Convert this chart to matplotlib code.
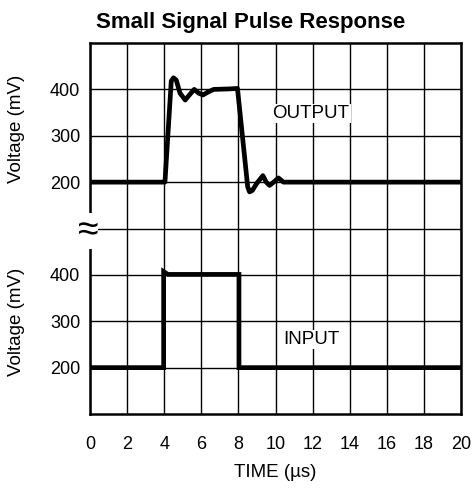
import numpy as np
import matplotlib.pyplot as plt

plt.rcParams['font.family'] = ['Liberation Sans', 'DejaVu Sans']

# Output trace (mV vs us)
out_t = [0, 4.04, 4.38, 4.5, 4.65, 4.85, 5.13, 5.4, 5.62, 5.85, 6.09, 6.35, 6.67, 7.5, 7.95,
         8.5, 8.6, 8.75, 9.0, 9.32, 9.5, 9.68, 9.9, 10.16, 10.43, 20]
out_v = [200, 200, 418, 425, 420, 392, 377, 390, 400, 392, 388, 394, 400, 401, 402,
         190, 179, 182, 198, 214, 200, 193, 200, 209, 200, 200]

# Input trace
in_t = [0, 3.97, 3.97, 4.2, 8.03, 8.03, 20]
in_v = [200, 200, 407, 401, 401, 200, 200]

xticks = list(range(0, 21, 2))
yticklabels = ['200', '300', '400', '', '200', '300', '400']


def out_row(v):
    return np.asarray(v) / 100 + 3


def in_row(v):
    return np.asarray(v) / 100 - 1


fig = plt.figure(figsize=(4.72, 4.91), dpi=100)
ax = fig.add_axes([0.1907, 0.1568, 0.786, 0.7556])

ax.plot(out_t, out_row(out_v), color='black', lw=3.4, solid_joinstyle='round', zorder=5)
ax.plot(in_t, in_row(in_v), color='black', lw=3.4, solid_joinstyle='miter', zorder=5)

ax.set_xlim(0, 20)
ax.set_ylim(0, 8)
ax.set_xticks(xticks)
ax.set_yticks(range(1, 8))
ax.set_yticklabels(yticklabels)
ax.tick_params(length=0, labelsize=13, colors='black')
ax.tick_params(axis='x', pad=16)
ax.tick_params(axis='y', pad=7)
ax.grid(True, color='black', lw=1)
for s in ax.spines.values():
    s.set_linewidth(1.8)

ax.text(11.9, 6.48, 'OUTPUT', ha='center', va='center', fontsize=13.5,
        bbox=dict(facecolor='white', edgecolor='none', pad=1), zorder=4)
ax.text(11.95, 1.61, 'INPUT', ha='center', va='center', fontsize=13.5,
        bbox=dict(facecolor='white', edgecolor='none', pad=1), zorder=4)

ax.text(-0.1, 3.94, '\u2248', ha='center', va='center', fontsize=27,
        bbox=dict(facecolor='white', edgecolor='none', pad=0), zorder=6, clip_on=False)

ax.set_xlabel('TIME (\u00b5s)', fontsize=13.5, labelpad=8)
fig.text(0.036, 0.737, 'Voltage (mV)', rotation=90, ha='center', va='center', fontsize=13.5)
fig.text(0.036, 0.344, 'Voltage (mV)', rotation=90, ha='center', va='center', fontsize=13.5)
fig.text(0.53, 0.955, 'Small Signal Pulse Response', ha='center', va='center',
         fontsize=16, fontweight='bold')

plt.savefig('out.png', dpi=100)
